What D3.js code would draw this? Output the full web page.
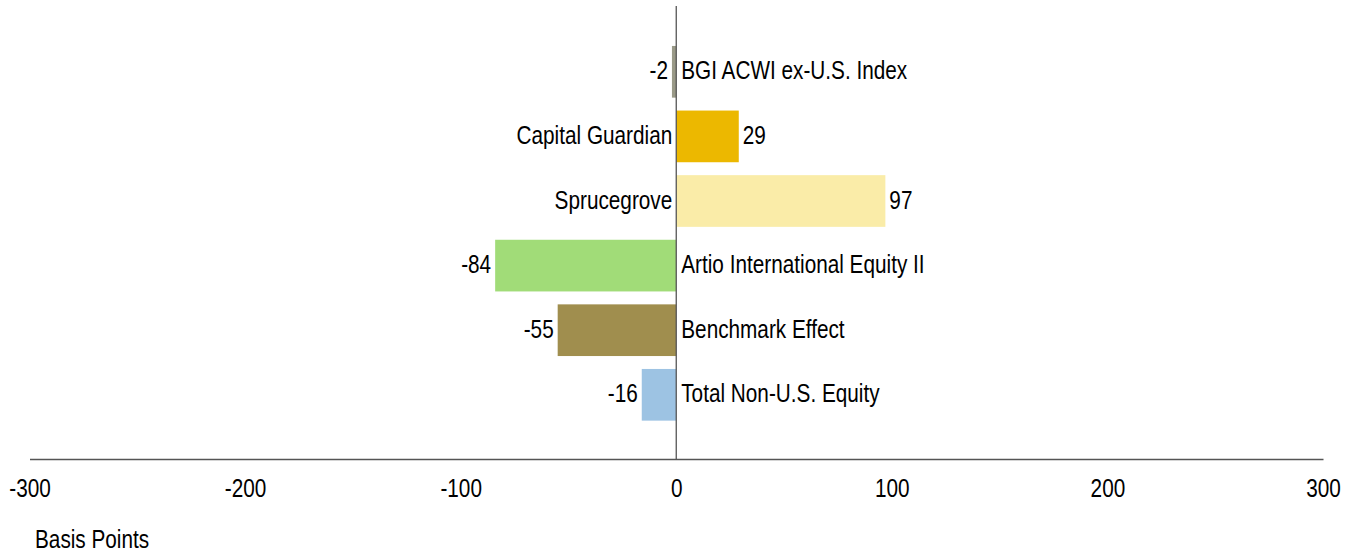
<!DOCTYPE html>
<html><head><meta charset="utf-8">
<script src="https://cdn.jsdelivr.net/npm/d3@7"></script>
<style>
body{margin:0;background:#fff;}
text{font-family:"Liberation Sans",Arial,sans-serif;fill:#000;}
</style></head>
<body><svg id="c" width="1356" height="555"></svg>
<script>
const categories = ["BGI ACWI ex-U.S. Index","Capital Guardian","Sprucegrove","Artio International Equity II","Benchmark Effect","Total Non-U.S. Equity"];
const values = [-2, 29, 97, -84, -55, -16];
const colors = ["#9a9a88","#ecb800","#faeca8","#a1dc78","#a08e4e","#9dc3e3"];
const tickValues = [-300,-200,-100,0,100,200,300];
const axisTitle = "Basis Points";

const svg = d3.select("#c");
const x = d3.scaleLinear().domain([-300,300]).range([29.5,1323]);
const y = d3.scaleBand().domain(categories).range([39.5,427.1]).paddingInner(0.2).paddingOuter(0.1);
const fs = 25, sx = 0.83;

function narrow(sel, fx, fy){
  sel.attr("x",0).attr("y",0)
     .attr("transform",(d,i)=>`translate(${fx(d,i)},${fy(d,i)}) scale(${sx},1)`);
}

// bars
svg.selectAll("rect.bar").data(categories).join("rect")
  .attr("x",(d,i)=>Math.min(x(0),x(values[i])))
  .attr("y",d=>y(d))
  .attr("width",(d,i)=>Math.abs(x(values[i])-x(0)))
  .attr("height",y.bandwidth())
  .attr("fill",(d,i)=>colors[i]);

// zero line
svg.append("line").attr("x1",x(0)).attr("x2",x(0)).attr("y1",6).attr("y2",459)
  .attr("stroke","#555").attr("stroke-width",1.3);

// x axis
const axis = d3.axisBottom(x).tickValues(tickValues).tickSize(0).tickPadding(0).tickFormat(d=>String(d));
const g = svg.append("g").attr("transform","translate(0,459)").call(axis);
g.select(".domain").attr("stroke","#555").attr("stroke-width",1.3);
g.selectAll("text").attr("dy",null).attr("font-size",fs)
  .attr("font-family",'"Liberation Sans",Arial,sans-serif').attr("fill","#000")
  .attr("transform",`translate(0,38) scale(${sx},1)`).attr("y",0);

// category labels
narrow(svg.selectAll("text.cat").data(categories).join("text").attr("class","cat")
  .attr("text-anchor",(d,i)=>values[i]>=0?"end":"start")
  .attr("font-size",fs).text(d=>d),
  (d,i)=>values[i]>=0 ? x(0)-4 : x(0)+5,
  d=>y(d)+y.bandwidth()/2+7.5);

// value labels
narrow(svg.selectAll("text.val").data(categories).join("text").attr("class","val")
  .attr("text-anchor",(d,i)=>values[i]>=0?"start":"end")
  .attr("font-size",fs).text((d,i)=>values[i]),
  (d,i)=>values[i]>=0 ? x(values[i])+4 : x(values[i])-4,
  d=>y(d)+y.bandwidth()/2+7.5);

narrow(svg.append("text").attr("font-size",fs).text(axisTitle), ()=>35, ()=>548);
</script></body></html>
